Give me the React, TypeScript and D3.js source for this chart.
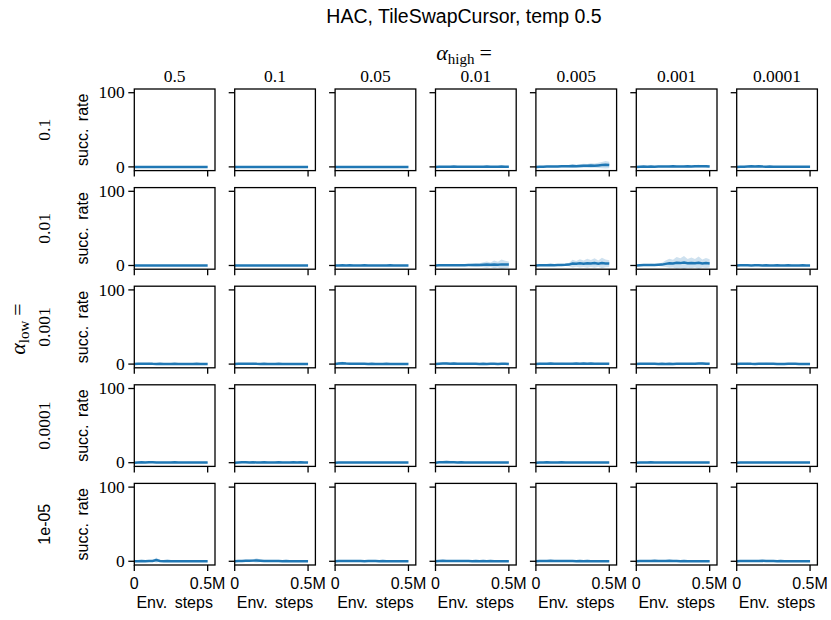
import React from "react";
import * as d3 from "d3";

// Grid labels
const TITLE = "HAC, TileSwapCursor, temp 0.5";
const COL_LABELS = ["0.5", "0.1", "0.05", "0.01", "0.005", "0.001", "0.0001"];
const ROW_LABELS = ["0.1", "0.01", "0.001", "0.0001", "1e-05"];
const X_TICKS = [0, 500000];
const X_TICK_LABELS = ["0", "0.5M"];
const Y_TICKS = [0, 100];
const Y_TICK_LABELS = ["0", "100"];

// Evaluation points (environment steps)
const STEPS = [0, 25000, 50000, 75000, 100000, 125000, 150000, 175000, 200000, 225000, 250000,
  275000, 300000, 325000, 350000, 375000, 400000, 425000, 450000, 475000, 500000];

const FLAT = [0, 0, 0, 0, 0, 0, 0, 0, 0, 0, 0, 0, 0, 0, 0, 0, 0, 0, 0, 0, 0];

// Success rate mean / spread, alpha_low = 0.1
const meanLow1 = [
  FLAT, FLAT, FLAT,
  [0, 0.2, 0.3, 0.1, 0.2, 0.4, 0.2, 0.1, 0.2, 0.3, 0.2, 0.1, 0.2, 0.3, 0.4, 0.2, 0.1, 0.3, 0.4, 0.2, 0.3],
  [0, 0.3, 0.2, 0.4, 0.5, 0.4, 0.6, 0.8, 0.7, 0.9, 1.2, 1.0, 1.3, 1.5, 1.4, 1.8, 1.6, 2.0, 2.4, 2.9, 2.5],
  [0, 0.2, 0.4, 0.3, 0.5, 0.3, 0.4, 0.6, 0.4, 0.5, 0.7, 0.5, 0.4, 0.6, 0.9, 0.6, 0.8, 1.0, 0.7, 0.9, 0.5],
  [0, 0.2, 0.3, 0.5, 0.8, 0.6, 0.9, 0.5, 0.3, 0.4, 0.2, 0.3, 0.2, 0.1, 0.2, 0.3, 0.2, 0.1, 0.2, 0.1, 0.1],
];
const spreadLow1 = [
  FLAT, FLAT, FLAT,
  [0, 0.4, 0.6, 0.3, 0.5, 0.8, 0.5, 0.3, 0.5, 0.7, 0.5, 0.3, 0.5, 0.7, 0.8, 0.5, 0.3, 0.6, 0.8, 0.5, 0.6],
  [0, 0.5, 0.4, 0.7, 0.9, 0.8, 1.1, 1.4, 1.2, 1.6, 2.2, 1.8, 2.4, 2.8, 2.5, 3.2, 2.9, 3.6, 4.2, 5.0, 4.4],
  [0, 0.4, 0.7, 0.5, 0.9, 0.6, 0.7, 1.1, 0.7, 0.9, 1.3, 0.9, 0.8, 1.2, 1.8, 1.1, 1.5, 1.9, 1.3, 1.7, 0.9],
  [0, 0.4, 0.6, 0.9, 1.5, 1.1, 1.7, 0.9, 0.6, 0.7, 0.4, 0.5, 0.4, 0.2, 0.4, 0.5, 0.4, 0.2, 0.4, 0.2, 0.2],
];

// alpha_low = 0.01
const meanLow2 = [
  FLAT, FLAT,
  [0, 0.1, 0.2, 0.1, 0.2, 0.1, 0, 0.1, 0.2, 0.1, 0, 0.1, 0.1, 0, 0.1, 0.2, 0.1, 0, 0.1, 0.1, 0.1],
  [0, 0.2, 0.3, 0.2, 0.3, 0.2, 0.3, 0.4, 0.3, 0.5, 0.6, 0.8, 0.7, 1.0, 1.2, 0.9, 1.4, 1.1, 1.5, 1.3, 1.2],
  [0, 0.3, 0.4, 0.3, 0.5, 0.4, 0.6, 0.8, 0.9, 1.2, 2.6, 2.2, 2.9, 2.4, 3.1, 2.7, 3.3, 2.5, 3.4, 2.8, 2.6],
  [0, 0.4, 0.6, 0.5, 0.8, 0.7, 1.0, 1.2, 2.2, 3.0, 2.6, 3.6, 3.2, 3.9, 2.9, 3.5, 3.0, 3.8, 2.7, 3.3, 2.8],
  [0, 0.2, 0.3, 0.2, 0.1, 0.2, 0.3, 0.1, 0.2, 0.1, 0.1, 0.2, 0.1, 0.1, 0.2, 0.1, 0.1, 0.1, 0.2, 0.1, 0.1],
];
const spreadLow2 = [
  FLAT, FLAT,
  [0, 0.2, 0.4, 0.2, 0.4, 0.2, 0, 0.2, 0.4, 0.2, 0, 0.2, 0.2, 0, 0.2, 0.4, 0.2, 0, 0.2, 0.2, 0.2],
  [0, 0.4, 0.5, 0.4, 0.5, 0.4, 0.6, 0.8, 0.7, 1.2, 1.8, 2.5, 2.2, 3.4, 4.2, 3.0, 5.2, 3.8, 6.5, 5.0, 4.2],
  [0, 0.5, 0.7, 0.5, 0.8, 0.7, 1.0, 1.4, 1.6, 2.2, 5.2, 3.8, 5.5, 4.4, 6.0, 4.8, 6.4, 4.2, 7.0, 5.2, 4.6],
  [0, 0.8, 1.1, 0.9, 1.5, 1.3, 1.8, 2.4, 4.4, 6.2, 5.2, 8.0, 6.5, 8.8, 6.0, 7.2, 5.8, 8.4, 5.4, 6.8, 5.6],
  [0, 0.4, 0.6, 0.4, 0.2, 0.4, 0.6, 0.2, 0.4, 0.2, 0.2, 0.4, 0.2, 0.2, 0.4, 0.2, 0.2, 0.2, 0.4, 0.2, 0.2],
];

// alpha_low = 0.001
const meanLow3 = [
  [0, 0.3, 0.5, 0.4, 0.6, 0.3, 0.2, 0.3, 0.2, 0.1, 0.2, 0.3, 0.2, 0.1, 0.2, 0.1, 0.2, 0.3, 0.1, 0.2, 0.1],
  [0, 0.4, 0.3, 0.5, 0.4, 0.6, 0.3, 0.2, 0.3, 0.2, 0.1, 0.2, 0.3, 0.1, 0.2, 0.1, 0.2, 0.1, 0.2, 0.1, 0.1],
  [0, 0.8, 1.0, 0.7, 0.6, 0.4, 0.5, 0.3, 0.4, 0.2, 0.3, 0.2, 0.1, 0.2, 0.3, 0.2, 0.1, 0.2, 0.1, 0.2, 0.1],
  [0, 0.5, 0.7, 0.9, 0.6, 0.8, 0.5, 0.4, 0.5, 0.3, 0.4, 0.3, 0.2, 0.3, 0.2, 0.3, 0.4, 0.2, 0.3, 0.5, 0.2],
  [0, 0.6, 0.4, 0.5, 0.7, 0.5, 0.4, 0.6, 0.5, 0.4, 0.6, 0.7, 0.5, 0.8, 0.6, 0.7, 0.5, 0.6, 0.4, 0.5, 0.3],
  [0, 0.4, 0.5, 0.3, 0.4, 0.3, 0.2, 0.3, 0.2, 0.3, 0.2, 0.3, 0.4, 0.3, 0.5, 0.6, 0.5, 0.8, 0.9, 0.6, 0.4],
  [0, 0.3, 0.4, 0.6, 0.3, 0.2, 0.3, 0.4, 0.6, 0.5, 0.3, 0.2, 0.1, 0.2, 0.3, 0.5, 0.4, 0.2, 0.1, 0.2, 0.1],
];
const spreadLow3 = [
  [0, 0.6, 1.0, 0.8, 1.2, 0.6, 0.4, 0.6, 0.4, 0.2, 0.4, 0.6, 0.4, 0.2, 0.4, 0.2, 0.4, 0.6, 0.2, 0.4, 0.2],
  [0, 0.8, 0.6, 1.0, 0.8, 1.2, 0.6, 0.4, 0.6, 0.4, 0.2, 0.4, 0.6, 0.2, 0.4, 0.2, 0.4, 0.2, 0.4, 0.2, 0.2],
  [0, 1.6, 2.0, 1.4, 1.2, 0.8, 1.0, 0.6, 0.8, 0.4, 0.6, 0.4, 0.2, 0.4, 0.6, 0.4, 0.2, 0.4, 0.2, 0.4, 0.2],
  [0, 1.0, 1.4, 1.8, 1.2, 1.6, 1.0, 0.8, 1.0, 0.6, 0.8, 0.6, 0.4, 0.6, 0.4, 0.6, 0.8, 0.4, 0.6, 1.0, 0.4],
  [0, 1.2, 0.8, 1.0, 1.4, 1.0, 0.8, 1.2, 1.0, 0.8, 1.2, 1.4, 1.0, 1.6, 1.2, 1.4, 1.0, 1.2, 0.8, 1.0, 0.6],
  [0, 0.8, 1.0, 0.6, 0.8, 0.6, 0.4, 0.6, 0.4, 0.6, 0.4, 0.6, 0.8, 0.6, 1.0, 1.2, 1.0, 1.8, 2.0, 1.2, 0.8],
  [0, 0.6, 0.8, 1.2, 0.6, 0.4, 0.6, 0.8, 1.2, 1.0, 0.6, 0.4, 0.2, 0.4, 0.6, 1.0, 0.8, 0.4, 0.2, 0.4, 0.2],
];

// alpha_low = 0.0001
const meanLow4 = [
  [0, 0.4, 0.5, 0.4, 0.6, 0.5, 0.4, 0.3, 0.4, 0.3, 0.4, 0.5, 0.3, 0.2, 0.3, 0.4, 0.2, 0.3, 0.2, 0.1, 0.2],
  [0, 0.3, 0.5, 0.6, 0.4, 0.5, 0.3, 0.4, 0.5, 0.4, 0.3, 0.4, 0.5, 0.3, 0.4, 0.3, 0.5, 0.4, 0.6, 0.3, 0.2],
  [0, 0.3, 0.4, 0.3, 0.2, 0.3, 0.4, 0.3, 0.2, 0.3, 0.2, 0.3, 0.2, 0.3, 0.2, 0.1, 0.2, 0.1, 0.2, 0.1, 0.1],
  [0, 0.5, 0.6, 0.8, 0.6, 0.5, 0.4, 0.5, 0.3, 0.4, 0.3, 0.2, 0.3, 0.2, 0.3, 0.2, 0.3, 0.2, 0.1, 0.2, 0.1],
  [0, 0.4, 0.3, 0.5, 0.4, 0.3, 0.4, 0.5, 0.4, 0.3, 0.4, 0.2, 0.3, 0.2, 0.3, 0.4, 0.2, 0.1, 0.2, 0.1, 0.1],
  [0, 0.3, 0.4, 0.3, 0.5, 0.3, 0.2, 0.3, 0.2, 0.3, 0.2, 0.1, 0.2, 0.1, 0.2, 0.1, 0.2, 0.1, 0.1, 0.1, 0.1],
  [0, 0.4, 0.3, 0.4, 0.2, 0.3, 0.4, 0.2, 0.3, 0.2, 0.1, 0.2, 0.1, 0.2, 0.1, 0.2, 0.1, 0.1, 0.2, 0.1, 0.1],
];
const spreadLow4 = [
  [0, 0.8, 1.0, 0.8, 1.2, 1.0, 0.8, 0.6, 0.8, 0.6, 0.8, 1.0, 0.6, 0.4, 0.6, 0.8, 0.4, 0.6, 0.4, 0.2, 0.4],
  [0, 0.6, 1.0, 1.2, 0.8, 1.0, 0.6, 0.8, 1.0, 0.8, 0.6, 0.8, 1.0, 0.6, 0.8, 0.6, 1.0, 0.8, 1.2, 0.6, 0.4],
  [0, 0.6, 0.8, 0.6, 0.4, 0.6, 0.8, 0.6, 0.4, 0.6, 0.4, 0.6, 0.4, 0.6, 0.4, 0.2, 0.4, 0.2, 0.4, 0.2, 0.2],
  [0, 1.0, 1.2, 1.6, 1.2, 1.0, 0.8, 1.0, 0.6, 0.8, 0.6, 0.4, 0.6, 0.4, 0.6, 0.4, 0.6, 0.4, 0.2, 0.4, 0.2],
  [0, 0.8, 0.6, 1.0, 0.8, 0.6, 0.8, 1.0, 0.8, 0.6, 0.8, 0.4, 0.6, 0.4, 0.6, 0.8, 0.4, 0.2, 0.4, 0.2, 0.2],
  [0, 0.6, 0.8, 0.6, 1.0, 0.6, 0.4, 0.6, 0.4, 0.6, 0.4, 0.2, 0.4, 0.2, 0.4, 0.2, 0.4, 0.2, 0.2, 0.2, 0.2],
  [0, 0.8, 0.6, 0.8, 0.4, 0.6, 0.8, 0.4, 0.6, 0.4, 0.2, 0.4, 0.2, 0.4, 0.2, 0.4, 0.2, 0.2, 0.4, 0.2, 0.2],
];

// alpha_low = 1e-05
const meanLow5 = [
  [0, 0.2, 0.3, 0.2, 0.4, 0.3, 1.6, 0.3, 0.2, 0.3, 0.2, 0.1, 0.2, 0.1, 0.2, 0.1, 0.1, 0.2, 0.1, 0.1, 0.1],
  [0, 0.3, 0.5, 0.7, 0.6, 0.9, 1.2, 0.8, 0.5, 0.4, 0.3, 0.4, 0.3, 0.2, 0.3, 0.2, 0.1, 0.2, 0.1, 0.2, 0.1],
  [0, 0.3, 0.4, 0.5, 0.4, 0.3, 0.4, 0.3, 0.2, 0.3, 0.4, 0.3, 0.2, 0.3, 0.2, 0.1, 0.2, 0.1, 0.2, 0.1, 0.1],
  [0, 0.5, 0.6, 0.5, 0.4, 0.5, 0.4, 0.3, 0.4, 0.3, 0.2, 0.3, 0.2, 0.3, 0.2, 0.3, 0.2, 0.1, 0.2, 0.1, 0.1],
  [0, 0.3, 0.4, 0.5, 0.6, 0.4, 0.5, 0.4, 0.3, 0.4, 0.3, 0.2, 0.3, 0.2, 0.3, 0.2, 0.1, 0.2, 0.1, 0.1, 0.1],
  [0, 0.4, 0.5, 0.4, 0.5, 0.6, 0.5, 0.4, 0.5, 0.6, 0.4, 0.3, 0.2, 0.3, 0.2, 0.1, 0.2, 0.1, 0.1, 0.1, 0.1],
  [0, 0.4, 0.5, 0.4, 0.3, 0.4, 0.5, 0.6, 0.5, 0.4, 0.3, 0.2, 0.3, 0.2, 0.1, 0.2, 0.1, 0.1, 0.1, 0.1, 0.1],
];
const spreadLow5 = [
  [0, 0.4, 0.6, 0.4, 0.8, 0.6, 3.4, 0.6, 0.4, 0.6, 0.4, 0.2, 0.4, 0.2, 0.4, 0.2, 0.2, 0.4, 0.2, 0.2, 0.2],
  [0, 0.6, 1.0, 1.4, 1.2, 2.0, 2.8, 1.6, 1.0, 0.8, 0.6, 0.8, 0.6, 0.4, 0.6, 0.4, 0.2, 0.4, 0.2, 0.4, 0.2],
  [0, 0.6, 0.8, 1.0, 0.8, 0.6, 0.8, 0.6, 0.4, 0.6, 0.8, 0.6, 0.4, 0.6, 0.4, 0.2, 0.4, 0.2, 0.4, 0.2, 0.2],
  [0, 1.0, 1.2, 1.0, 0.8, 1.0, 0.8, 0.6, 0.8, 0.6, 0.4, 0.6, 0.4, 0.6, 0.4, 0.6, 0.4, 0.2, 0.4, 0.2, 0.2],
  [0, 0.6, 0.8, 1.0, 1.2, 0.8, 1.0, 0.8, 0.6, 0.8, 0.6, 0.4, 0.6, 0.4, 0.6, 0.4, 0.2, 0.4, 0.2, 0.2, 0.2],
  [0, 0.8, 1.0, 0.8, 1.0, 1.2, 1.0, 0.8, 1.0, 1.2, 0.8, 0.6, 0.4, 0.6, 0.4, 0.2, 0.4, 0.2, 0.2, 0.2, 0.2],
  [0, 0.8, 1.0, 0.8, 0.6, 0.8, 1.0, 1.2, 1.0, 0.8, 0.6, 0.4, 0.6, 0.4, 0.2, 0.4, 0.2, 0.2, 0.2, 0.2, 0.2],
];

const MEANS = [meanLow1, meanLow2, meanLow3, meanLow4, meanLow5];
const SPREADS = [spreadLow1, spreadLow2, spreadLow3, spreadLow4, spreadLow5];

// Layout
const W = 831;
const H = 620;
const LEFT = 134.3;
const TOP = 89;
const PW = 80.7;
const PH = 81.6;
const COL_PITCH = 100.4;
const ROW_PITCH = 98.6;
const COLOR = "#1f77b4";
const SANS = "'Liberation Sans', Arial, sans-serif";
const SERIF = "'Liberation Serif', 'Times New Roman', serif";
const TICK = 6;

const x = d3.scaleLinear().domain([0, 550000]).range([0, PW]);
const y = d3.scaleLinear().domain([-5, 105]).range([PH, 0]);

function Panel({ mean, spread, row, col }: { mean: number[]; spread: number[]; row: number; col: number }) {
  const area = d3
    .area<number>()
    .x((_, i) => x(STEPS[i]))
    .y0((d, i) => y(d - spread[i]))
    .y1((d, i) => y(d + spread[i]));
  const line = d3
    .line<number>()
    .x((_, i) => x(STEPS[i]))
    .y((d) => y(d));
  const tx = LEFT + col * COL_PITCH;
  const ty = TOP + row * ROW_PITCH;
  const lastRow = row === ROW_LABELS.length - 1;
  const firstCol = col === 0;
  return (
    <g transform={`translate(${tx},${ty})`}>
      <path d={area(mean) ?? ""} fill={COLOR} fillOpacity={0.22} stroke="none" />
      <path d={line(mean) ?? ""} fill="none" stroke={COLOR} strokeWidth={2.5} />
      <rect x={0} y={0} width={PW} height={PH} fill="none" stroke="#000" strokeWidth={1.3} />
      {Y_TICKS.map((t, i) => (
        <g key={`y${t}`}>
          <line x1={-TICK} x2={0} y1={y(t)} y2={y(t)} stroke="#000" strokeWidth={1.3} />
          {firstCol && (
            <text x={-TICK - 3.5} y={y(t)} dy="0.33em" textAnchor="end" fontFamily={SERIF} fontSize={17.5}>
              {Y_TICK_LABELS[i]}
            </text>
          )}
        </g>
      ))}
      {X_TICKS.map((t, i) => (
        <g key={`x${t}`}>
          <line x1={x(t)} x2={x(t)} y1={PH} y2={PH + TICK} stroke="#000" strokeWidth={1.3} />
          {lastRow && (
            <text x={x(t)} y={PH + 24.5} textAnchor="middle" fontFamily={SANS} fontSize={16}>
              {X_TICK_LABELS[i]}
            </text>
          )}
        </g>
      ))}
      {lastRow && (
        <text x={PW / 2} y={PH + 43} textAnchor="middle" fontFamily={SANS} fontSize={16}>
          Env.{" "}
          <tspan dx={3}>steps</tspan>
        </text>
      )}
      {firstCol && (
        <text
          transform={`translate(${-46},${PH / 2}) rotate(-90)`}
          textAnchor="middle"
          fontFamily={SANS}
          fontSize={16}
        >
          succ.{" "}
          <tspan dx={3}>rate</tspan>
        </text>
      )}
    </g>
  );
}

export default function App() {
  const midX = 464;
  return (
    <svg
      width={W}
      height={H}
      viewBox={`0 0 ${W} ${H}`}
      style={{ position: "fixed", left: 0, top: 0, background: "#fff" }}
    >
      <rect width={W} height={H} fill="#fff" />
      <text x={midX} y={22.5} textAnchor="middle" fontFamily={SANS} fontSize={19.5}>
        {TITLE}
      </text>
      <text x={midX} y={59.5} textAnchor="middle" fontFamily={SERIF} fontSize={22}>
        <tspan fontStyle="italic">α</tspan>
        <tspan fontSize={15} dy={4}>high</tspan>
        <tspan dy={-4} dx={5}>=</tspan>
      </text>
      {COL_LABELS.map((c, j) => (
        <text
          key={c}
          x={LEFT + j * COL_PITCH + PW / 2}
          y={81.5}
          textAnchor="middle"
          fontFamily={SERIF}
          fontSize={17.5}
        >
          {c}
        </text>
      ))}
      {ROW_LABELS.map((r, i) => (
        <text
          key={r}
          transform={`translate(50,${TOP + i * ROW_PITCH + PH / 2}) rotate(-90)`}
          textAnchor="middle"
          fontFamily={r.includes("e") ? SANS : SERIF}
          fontSize={r.includes("e") ? 16 : 17.5}
        >
          {r}
        </text>
      ))}
      <text
        transform={`translate(25,${TOP + 2 * ROW_PITCH + PH / 2 + 2}) rotate(-90)`}
        textAnchor="middle"
        fontFamily={SERIF}
        fontSize={22}
      >
        <tspan fontStyle="italic">α</tspan>
        <tspan fontSize={15} dy={4}>low</tspan>
        <tspan dy={-4} dx={5}>=</tspan>
      </text>
      {ROW_LABELS.map((_, i) =>
        COL_LABELS.map((__, j) => (
          <Panel key={`${i}-${j}`} mean={MEANS[i][j]} spread={SPREADS[i][j]} row={i} col={j} />
        ))
      )}
    </svg>
  );
}
